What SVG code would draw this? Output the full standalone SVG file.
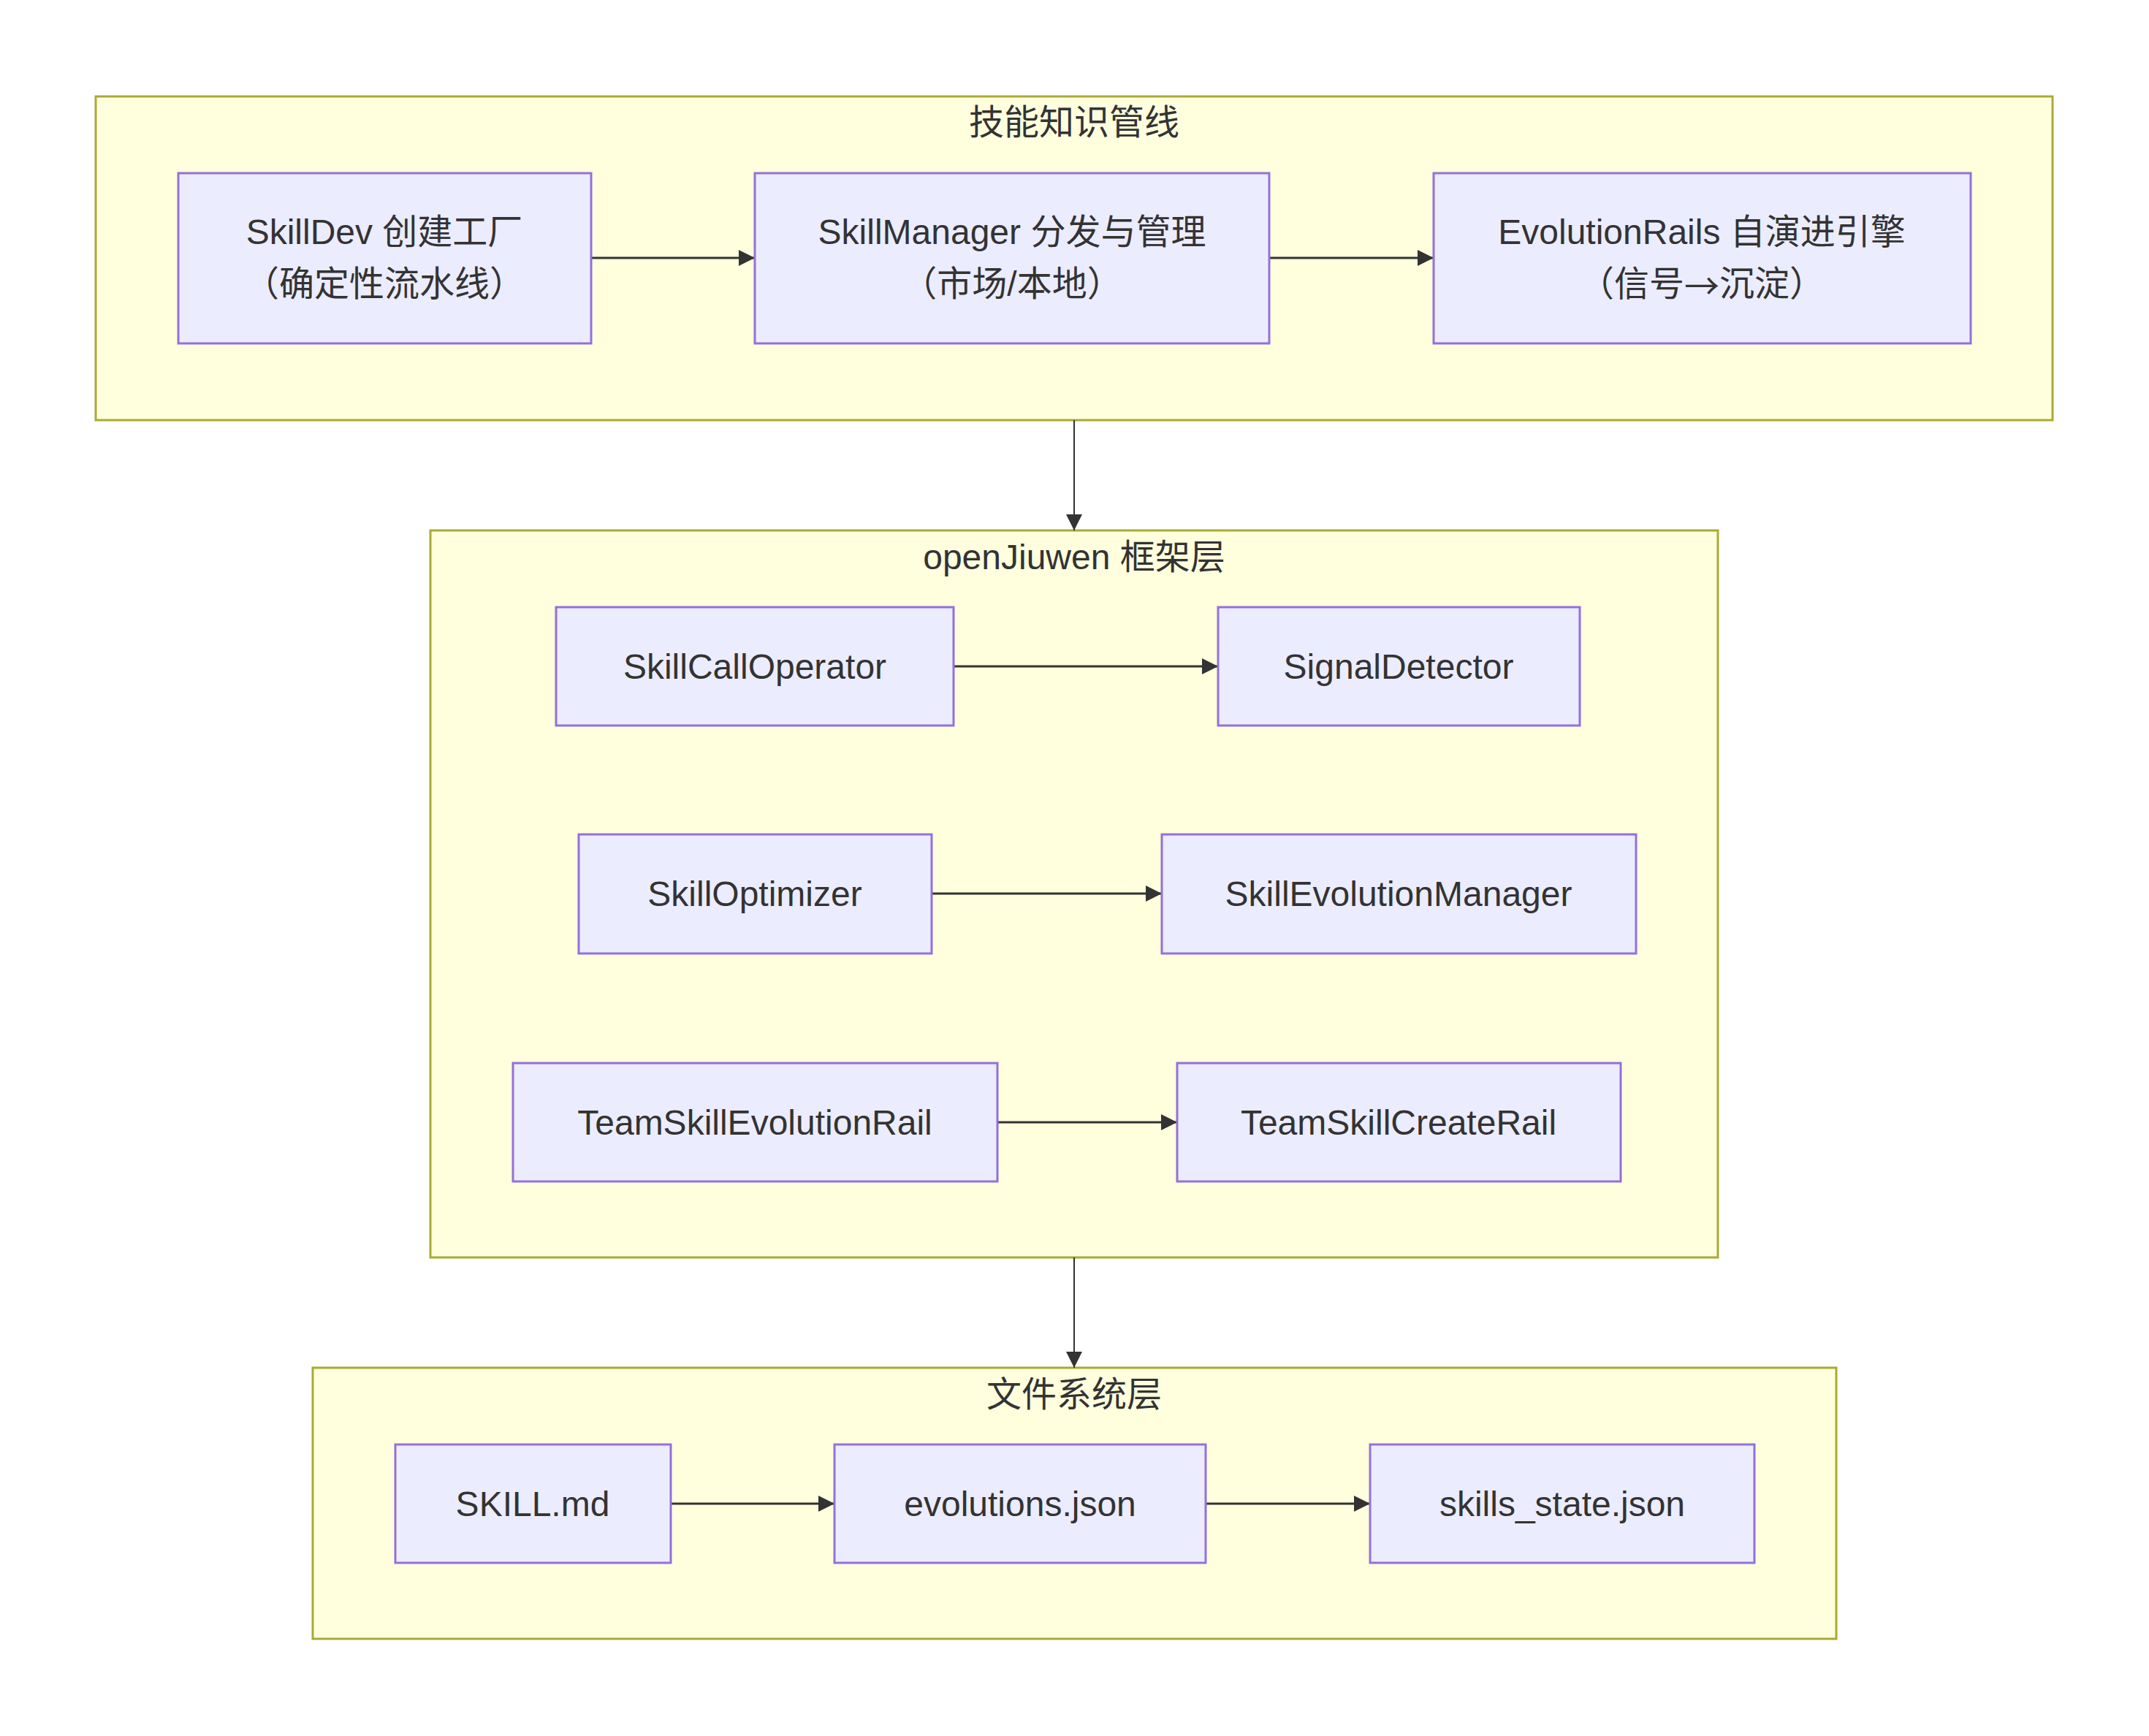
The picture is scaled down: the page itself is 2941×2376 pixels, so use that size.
<svg xmlns="http://www.w3.org/2000/svg" width="2941" height="2376" viewBox="0 0 2941 2376">
<style>
.cluster{fill:#ffffde;stroke:#aaaa33;stroke-width:3}
.node rect{fill:#ececff;stroke:#9370db;stroke-width:3}
text{font-family:"Liberation Sans","Noto Sans CJK SC",sans-serif;font-size:48px;fill:#333333;text-anchor:middle;dominant-baseline:central}
.cjk{font-family:"Noto Sans CJK SC",sans-serif}
.edge{stroke:#333333;stroke-width:3;fill:none}
.edge2{stroke:#333333;stroke-width:2;fill:none}
</style>
<defs>
<marker id="arr" viewBox="0 0 10 10" refX="10" refY="5" markerUnits="userSpaceOnUse" markerWidth="22" markerHeight="22" orient="auto">
<path d="M0,0 L10,5 L0,10 z" fill="#333333"/>
</marker>
</defs>
<rect width="2941" height="2376" fill="#ffffff"/>
<g id="cluster-pipeline">
<rect class="cluster" x="131" y="132" width="2678" height="443"/>
<text x="1470" y="167">技能知识管线</text>
</g>
<g id="cluster-framework">
<rect class="cluster" x="589" y="726" width="1762" height="995"/>
<text x="1470" y="762">openJiuwen 框架层</text>
</g>
<g id="cluster-fs">
<rect class="cluster" x="428" y="1872" width="2085" height="371"/>
<text x="1470" y="1908">文件系统层</text>
</g>
<g id="connectors">
<path class="edge" d="M809,353 L1033,353" marker-end="url(#arr)"/>
<path class="edge" d="M1737,353 L1962,353" marker-end="url(#arr)"/>
<path class="edge2" d="M1470,575 L1470,726" marker-end="url(#arr)"/>
<path class="edge" d="M1305,912 L1667,912" marker-end="url(#arr)"/>
<path class="edge" d="M1275,1223 L1590,1223" marker-end="url(#arr)"/>
<path class="edge" d="M1365,1536 L1611,1536" marker-end="url(#arr)"/>
<path class="edge2" d="M1470,1721 L1470,1872" marker-end="url(#arr)"/>
<path class="edge" d="M918,2058 L1142,2058" marker-end="url(#arr)"/>
<path class="edge" d="M1650,2058 L1875,2058" marker-end="url(#arr)"/>
</g>
<g id="node-skilldev" class="node">
<rect x="244" y="237" width="565" height="233"/>
<text x="526" y="317">SkillDev 创建工厂</text>
<text x="526" y="388">（确定性流水线）</text>
</g>
<g id="node-skillmanager" class="node">
<rect x="1033" y="237" width="704" height="233"/>
<text x="1385" y="317">SkillManager 分发与管理</text>
<text x="1385" y="388">（市场/本地）</text>
</g>
<g id="node-evolutionrails" class="node">
<rect x="1962" y="237" width="735" height="233"/>
<text x="2329" y="317">EvolutionRails 自演进引擎</text>
<text x="2329" y="388">（信号<tspan class="cjk">→</tspan>沉淀）</text>
</g>
<g id="node-skillcalloperator" class="node">
<rect x="761" y="831" width="544" height="162"/>
<text x="1033" y="912">SkillCallOperator</text>
</g>
<g id="node-signaldetector" class="node">
<rect x="1667" y="831" width="495" height="162"/>
<text x="1914" y="912">SignalDetector</text>
</g>
<g id="node-skilloptimizer" class="node">
<rect x="792" y="1142" width="483" height="163"/>
<text x="1033" y="1223">SkillOptimizer</text>
</g>
<g id="node-skillevolutionmanager" class="node">
<rect x="1590" y="1142" width="649" height="163"/>
<text x="1914" y="1223">SkillEvolutionManager</text>
</g>
<g id="node-teamskillevolutionrail" class="node">
<rect x="702" y="1455" width="663" height="162"/>
<text x="1033" y="1536">TeamSkillEvolutionRail</text>
</g>
<g id="node-teamskillcreaterail" class="node">
<rect x="1611" y="1455" width="607" height="162"/>
<text x="1914" y="1536">TeamSkillCreateRail</text>
</g>
<g id="node-skillmd" class="node">
<rect x="541" y="1977" width="377" height="162"/>
<text x="729" y="2058">SKILL.md</text>
</g>
<g id="node-evolutionsjson" class="node">
<rect x="1142" y="1977" width="508" height="162"/>
<text x="1396" y="2058">evolutions.json</text>
</g>
<g id="node-skillsstate" class="node">
<rect x="1875" y="1977" width="526" height="162"/>
<text x="2138" y="2058">skills_state.json</text>
</g>
</svg>
